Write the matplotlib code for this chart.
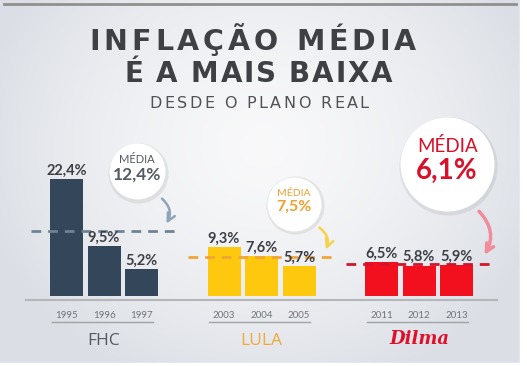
import numpy as np
import matplotlib.pyplot as plt
from matplotlib.patches import Rectangle

# data
groups = ['FHC', 'LULA', 'Dilma']
years = [['1995', '1996', '1997'], ['2003', '2004', '2005'], ['2011', '2012', '2013']]
values = [[22.4, 9.5, 5.2], [9.3, 7.6, 5.7], [6.5, 5.8, 5.9]]
means = [12.4, 7.5, 6.1]

# styles
bar_colors = ['#34465a', '#fdc80e', '#f2101e']
mean_colors = ['#6f8397', '#f2a534', '#d3142c']
name_colors = ['#555a60', '#f0a93a', '#e0102a']
bubble_txt = ['#555a60', '#f0a030', '#d8102a']
arrow_colors = ['#90a4b8', '#f5d24a', '#f08c9c']
txt_dark = '#3c4046'

plt.rcParams['font.family'] = ['Lato', 'DejaVu Sans']

W, H = 527, 366
fig = plt.figure(figsize=(W / 100, H / 100), dpi=100)

# background gradient
bg = fig.add_axes([0, 0, 1, 1])
yy, xx = np.mgrid[0:H, 0:W]
r = np.sqrt(((xx - W * 0.5) / (W * 0.55)) ** 2 + ((yy - H * 0.4) / (H * 0.7)) ** 2)
g = np.clip(r, 0, 1)
c0 = np.array([0.975, 0.975, 0.98])
c1 = np.array([0.86, 0.875, 0.90])
img = c0 + (c1 - c0) * g[..., None] ** 1.5
bg.imshow(img, aspect='auto', extent=[0, W, H, 0])
bg.set_xlim(0, W)
bg.set_ylim(H, 0)
bg.axis('off')
bg.add_patch(Rectangle((520, 0), 10, H, color='white', zorder=3))
bg.add_patch(Rectangle((0, 363), W, 5, color='white', zorder=3))
bg.plot([4, 516], [3.5, 3.5], color='#909090', lw=2, zorder=4)

# chart axes: x in bar slots, y in percent
slot, unit = 37.5, 5.22
x0, y0 = 66.5, 296
ax = fig.add_axes([0, 0, 1, 1])
ax.patch.set_alpha(0)
ax.set_xlim(-x0 / slot, (W - x0) / slot)
ax.set_ylim(-(H - y0) / unit, y0 / unit)
ax.axis('off')

gap = 4.2
bubble_pos = [(1.88, 23.9), (1.87, 17.7), (1.75, 25.2)]
bubble_r = [28, 27, 47]
bubble_fs = [(8, 12.5), (7.5, 11.5), (13.5, 20)]
arrows = [((2.49, 19.0), (2.63, 13.4), -0.45),
          ((2.48, 13.4), (2.69, 8.4), -0.45),
          ((2.55, 16.6), (2.71, 7.4), -0.4)]

ax.plot([-1.08, 11.48], [-0.77, -0.77], color='#b4b6b9', lw=1.5, zorder=1)

for gi, name in enumerate(groups):
    xs = gi * gap + np.arange(3)
    ax.bar(xs, values[gi], width=0.88, color=bar_colors[gi], zorder=2)
    for x, v, yr in zip(xs, values[gi], years[gi]):
        lbl = f'{v:.1f}'.replace('.', ',') + '%'
        ax.annotate(lbl, (x, v), xytext=(0, 3.2), textcoords='offset points',
                    ha='center', va='baseline', fontsize=10.5, fontweight='bold',
                    color=txt_dark, zorder=5)
        ax.text(x, -4.2, yr, ha='center', va='baseline', fontsize=7, color='#707478')
    ax.plot([xs[0] - 0.4, xs[-1] + 0.3], [-4.98, -4.98], color='#a0a3a6', lw=1)
    # mean line
    ax.plot([gi * gap - 0.95, gi * gap + 3.05], [means[gi], means[gi]],
            color=mean_colors[gi], lw=2, ls=(0, (3.5, 2.5)), zorder=4)
    # group name
    if name == 'Dilma':
        ax.text(xs[1], -9.2, name, ha='center', va='baseline', fontsize=13,
                color=name_colors[gi], fontweight='bold', style='italic',
                family=['DejaVu Serif'])
    else:
        ax.text(xs[1], -9.39, name, ha='center', va='baseline', fontsize=12.5,
                color=name_colors[gi], family=['Open Sans', 'DejaVu Sans'])
    # bubble
    bx, by = bubble_pos[gi]
    bx += gi * gap
    d = 2 * bubble_r[gi] * 0.72
    ax.scatter([bx + 0.03], [by - 0.35], s=(d + 3) ** 2, color='#000000', alpha=0.07,
               lw=0, zorder=6)
    ax.scatter([bx], [by], s=d ** 2, color='white', lw=0, zorder=7)
    f1, f2 = bubble_fs[gi]
    ax.annotate('MÉDIA', (bx, by), xytext=(0, f2 * 0.35), textcoords='offset points',
                ha='center', va='bottom', fontsize=f1, color=bubble_txt[gi], zorder=8)
    ax.annotate(f'{means[gi]:.1f}'.replace('.', ',') + '%', (bx, by),
                xytext=(0, f2 * 0.25), textcoords='offset points', ha='center', va='top',
                fontsize=f2, fontweight='bold', color=bubble_txt[gi], zorder=8)
    # arrow
    (ax0, ay0), (ax1, ay1), rad = arrows[gi]
    ax.annotate('', (ax1 + gi * gap, ay1), xytext=(ax0 + gi * gap, ay0),
                arrowprops=dict(arrowstyle='->', color=arrow_colors[gi],
                                lw=2.5 if gi == 2 else 1.8,
                                connectionstyle=f'arc3,rad={rad}',
                                mutation_scale=14),
                zorder=5)


# titles, letter by letter with a little extra tracking
def text_w(s, **kw):
    rend = fig.canvas.get_renderer()
    t = fig.text(0, 0, s + 'I', **kw)
    w = t.get_window_extent(rend).width
    t.remove()
    return w


def tracked_text(s, cx, base, track, **kw):
    wi = text_w('', **kw)
    pre = [text_w(s[:i], **kw) - wi for i in range(len(s) + 1)]
    total = pre[-1] + track * (len(s) - 1)
    left = cx - total / 2
    for i, ch in enumerate(s):
        if ch == ' ':
            continue
        fig.text((left + pre[i] + i * track) / W, 1 - base / H, ch,
                 ha='left', va='baseline', **kw)


title_col = '#3e4044'
tfam = ['DejaVu Sans']
tracked_text('INFLAÇÃO MÉDIA', 252.5, 50, 4.0, fontsize=20.5, fontweight='bold',
             color=title_col, family=tfam)
tracked_text('É A MAIS BAIXA', 258, 82, 1.8, fontsize=20, fontweight='bold',
             color=title_col, family=tfam)
tracked_text('DESDE O PLANO REAL', 259, 108, 2.4, fontsize=11.5,
             color='#505256', family=tfam)

fig.savefig('out.png', dpi=100)
